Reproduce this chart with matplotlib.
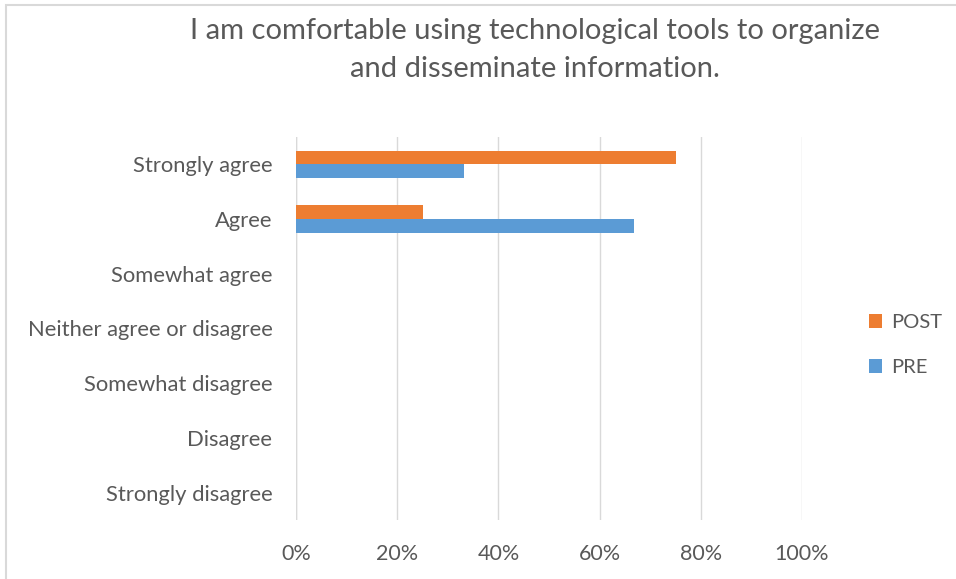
import numpy as np
import matplotlib
matplotlib.use("Agg")
import matplotlib.pyplot as plt
from matplotlib.patches import Rectangle
from matplotlib.ticker import PercentFormatter

plt.rcParams['font.family'] = ['Lato', 'DejaVu Sans']

categories = ["Strongly agree", "Agree", "Somewhat agree",
              "Neither agree or disagree", "Somewhat disagree",
              "Disagree", "Strongly disagree"]
post = [0.75, 0.25, 0, 0, 0, 0, 0]
pre = [0.333, 0.667, 0, 0, 0, 0, 0]
series_names = ["POST", "PRE"]
title = "I am comfortable using technological tools to organize\nand disseminate information."

ORANGE = "#ED7D31"
BLUE = "#5B9BD5"
TEXT = "#595959"
GRID = "#D9D9D9"

fig = plt.figure(figsize=(9.56, 5.79), dpi=100)
# chart-area frame (only top/left edges fall inside the canvas)
fig.patches.append(Rectangle((6 / 956, -0.1), 1.2, 1.1 - 5 / 579,
                             transform=fig.transFigure, fill=False,
                             edgecolor=GRID, lw=1.5))

ax = fig.add_axes([296 / 956, 1 - 520 / 579, (802 - 296) / 956, (520 - 137) / 579])

y = np.arange(len(categories))
h = 0.25
ax.barh(y - h / 2, post, height=h, color=ORANGE, label=series_names[0])
ax.barh(y + h / 2, pre, height=h, color=BLUE, label=series_names[1])

ax.set_ylim(len(categories) - 0.5, -0.5)
ax.set_xlim(0, 1)
ax.set_yticks(y)
ax.set_yticklabels(categories)
ax.set_xticks(np.arange(0, 1.01, 0.2))
ax.xaxis.set_major_formatter(PercentFormatter(1.0, decimals=0))
ax.grid(axis="x", color=GRID, lw=1)
ax.set_axisbelow(True)
for s in ax.spines.values():
    s.set_visible(False)
ax.axvline(0, color=GRID, lw=1, zorder=0)
ax.tick_params(length=0, colors=TEXT)
ax.tick_params(axis="y", pad=17, labelsize=15.8)
ax.tick_params(axis="x", pad=17, labelsize=15.5)

fig.text(535 / 956, 1 - 50 / 579, title, ha="center", va="center",
         fontsize=21, color=TEXT, linespacing=1.6)

leg = ax.legend(loc="center left", bbox_to_anchor=(851 / 956, 1 - 345 / 579),
                bbox_transform=fig.transFigure, frameon=False, fontsize=14.5,
                handlelength=0.65, handleheight=0.65, handletextpad=0.45,
                labelspacing=1.4)
for t in leg.get_texts():
    t.set_color(TEXT)

fig.savefig("out.png", dpi=100)
